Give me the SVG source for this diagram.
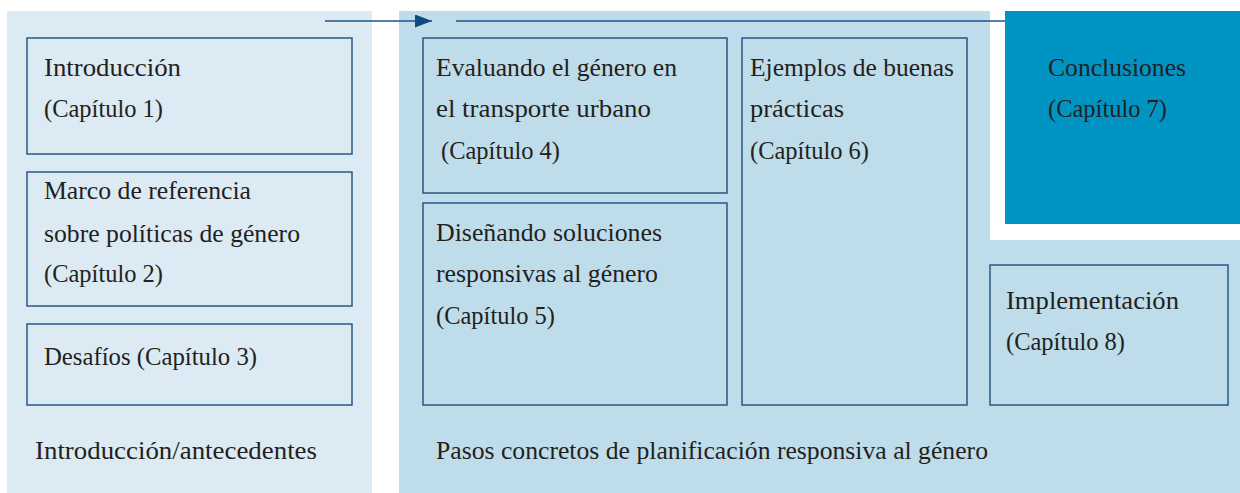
<svg xmlns="http://www.w3.org/2000/svg" width="1240" height="493" viewBox="0 0 1240 493">
<style>
.box{fill:none;stroke:#1d4f7e;stroke-width:1.4}
text{font-family:"Liberation Serif","DejaVu Serif",serif;font-size:24.5px;fill:#231f20}
.conn{stroke:#1d5486;stroke-width:1.5;fill:none}
</style>
<defs>
<marker id="ah" markerWidth="18" markerHeight="13" refX="17" refY="6.5" orient="auto" markerUnits="userSpaceOnUse">
<path d="M0,0 L17,6.5 L0,13 Z" fill="#0f4a80"/>
</marker>
</defs>
<rect width="1240" height="493" fill="#ffffff"/>
<g id="panel-left">
<rect x="7" y="11" width="365" height="482" fill="#dceaf4"/>
<text x="35" y="459" textLength="282" lengthAdjust="spacingAndGlyphs">Introducción/antecedentes</text>
</g>
<g id="panel-right">
<path d="M399,11 H990 V240 H1240 V493 H399 Z" fill="#bfdcea"/>
<text x="436" y="459" textLength="552" lengthAdjust="spacingAndGlyphs">Pasos concretos de planificación responsiva al género</text>
</g>
<g id="connectors">
<line class="conn" x1="325" y1="21" x2="432" y2="21" marker-end="url(#ah)"/>
<line class="conn" x1="456" y1="21" x2="1062" y2="21" marker-end="url(#ah)"/>
</g>
<g id="n1">
<rect class="box" x="27" y="38" width="325" height="116"/>
<text x="44" y="76" textLength="137" lengthAdjust="spacingAndGlyphs">Introducción</text>
<text x="44" y="117" textLength="119" lengthAdjust="spacingAndGlyphs">(Capítulo 1)</text>
</g>
<g id="n2">
<rect class="box" x="27" y="172" width="325" height="134"/>
<text x="44" y="199" textLength="207" lengthAdjust="spacingAndGlyphs">Marco de referencia</text>
<text x="44" y="242" textLength="256" lengthAdjust="spacingAndGlyphs">sobre políticas de género</text>
<text x="44" y="282" textLength="119" lengthAdjust="spacingAndGlyphs">(Capítulo 2)</text>
</g>
<g id="n3">
<rect class="box" x="27" y="324" width="325" height="81"/>
<text x="44" y="365" textLength="213" lengthAdjust="spacingAndGlyphs">Desafíos (Capítulo 3)</text>
</g>
<g id="n4">
<rect class="box" x="423" y="38" width="304" height="155"/>
<text x="436" y="76" textLength="241" lengthAdjust="spacingAndGlyphs">Evaluando el género en</text>
<text x="436" y="117" textLength="215" lengthAdjust="spacingAndGlyphs">el transporte urbano</text>
<text x="441" y="159" textLength="119" lengthAdjust="spacingAndGlyphs">(Capítulo 4)</text>
</g>
<g id="n5">
<rect class="box" x="423" y="203" width="304" height="202"/>
<text x="436" y="241" textLength="226" lengthAdjust="spacingAndGlyphs">Diseñando soluciones</text>
<text x="436" y="282" textLength="222" lengthAdjust="spacingAndGlyphs">responsivas al género</text>
<text x="436" y="324" textLength="119" lengthAdjust="spacingAndGlyphs">(Capítulo 5)</text>
</g>
<g id="n6">
<rect class="box" x="742" y="38" width="225" height="367"/>
<text x="750" y="76" textLength="204" lengthAdjust="spacingAndGlyphs">Ejemplos de buenas</text>
<text x="750" y="117" textLength="94" lengthAdjust="spacingAndGlyphs">prácticas</text>
<text x="750" y="159" textLength="119" lengthAdjust="spacingAndGlyphs">(Capítulo 6)</text>
</g>
<g id="n7">
<rect x="1005" y="11" width="235" height="213" fill="#0094c3"/>
<text x="1048" y="76" textLength="138" lengthAdjust="spacingAndGlyphs">Conclusiones</text>
<text x="1048" y="117" textLength="119" lengthAdjust="spacingAndGlyphs">(Capítulo 7)</text>
</g>
<g id="n8">
<rect class="box" x="990" y="265" width="238" height="140"/>
<text x="1006" y="309" textLength="173" lengthAdjust="spacingAndGlyphs">Implementación</text>
<text x="1006" y="350" textLength="119" lengthAdjust="spacingAndGlyphs">(Capítulo 8)</text>
</g>
</svg>
